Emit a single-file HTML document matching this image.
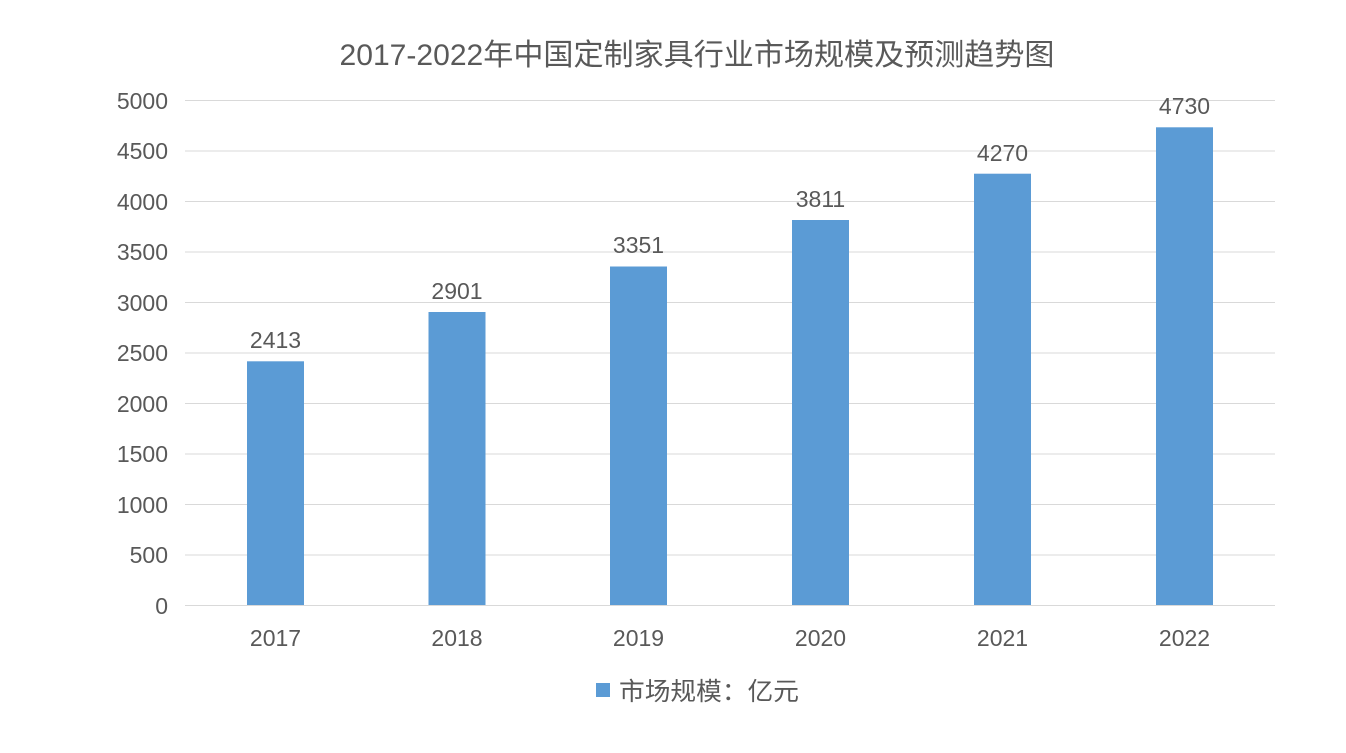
<!DOCTYPE html>
<html><head><meta charset="utf-8"><style>
body{margin:0;background:#fff}
text{font-family:"Liberation Sans","Noto Sans CJK SC",sans-serif;fill:#595959}
</style></head><body>
<svg width="1346" height="748" xmlns="http://www.w3.org/2000/svg">
<rect width="1346" height="748" fill="#fff"/>
<text x="697" y="65" font-size="30" text-anchor="middle" textLength="715" lengthAdjust="spacingAndGlyphs">2017-2022年中国定制家具行业市场规模及预测趋势图</text>
<g stroke="#d9d9d9" stroke-width="1">
<line x1="185" x2="1275" y1="100.5" y2="100.5"/>
<line x1="185" x2="1275" y1="151" y2="151"/>
<line x1="185" x2="1275" y1="201.5" y2="201.5"/>
<line x1="185" x2="1275" y1="252" y2="252"/>
<line x1="185" x2="1275" y1="302.5" y2="302.5"/>
<line x1="185" x2="1275" y1="353" y2="353"/>
<line x1="185" x2="1275" y1="403.5" y2="403.5"/>
<line x1="185" x2="1275" y1="454" y2="454"/>
<line x1="185" x2="1275" y1="504.5" y2="504.5"/>
<line x1="185" x2="1275" y1="555" y2="555"/>
<line x1="185" x2="1275" y1="605.5" y2="605.5"/>
</g>
<g font-size="23" text-anchor="end">
<text x="168" y="109">5000</text><text x="168" y="159">4500</text><text x="168" y="210">4000</text>
<text x="168" y="260">3500</text><text x="168" y="311">3000</text><text x="168" y="361">2500</text>
<text x="168" y="412">2000</text><text x="168" y="462">1500</text><text x="168" y="513">1000</text>
<text x="168" y="563">500</text><text x="168" y="614">0</text>
</g>
<g fill="#5b9bd5">
<rect x="247" y="361.3" width="57" height="243.7"/>
<rect x="428.5" y="312" width="57" height="293"/>
<rect x="610" y="266.5" width="57" height="338.5"/>
<rect x="792" y="220" width="57" height="385"/>
<rect x="974" y="173.7" width="57" height="431.3"/>
<rect x="1156" y="127.3" width="57" height="477.7"/>
</g>
<g font-size="23" text-anchor="middle">
<text x="275.5" y="348">2413</text><text x="457" y="299">2901</text><text x="638.5" y="253">3351</text>
<text x="820.5" y="207">3811</text><text x="1002.5" y="161">4270</text><text x="1184.5" y="114">4730</text>
</g>
<g font-size="23" text-anchor="middle">
<text x="275.5" y="646">2017</text><text x="457" y="646">2018</text><text x="638.5" y="646">2019</text>
<text x="820.5" y="646">2020</text><text x="1002.5" y="646">2021</text><text x="1184.5" y="646">2022</text>
</g>
<rect x="596" y="683" width="14" height="14" fill="#5b9bd5"/>
<text x="619" y="700" font-size="25" textLength="180" lengthAdjust="spacingAndGlyphs">市场规模：亿元</text>
</svg>
</body></html>
